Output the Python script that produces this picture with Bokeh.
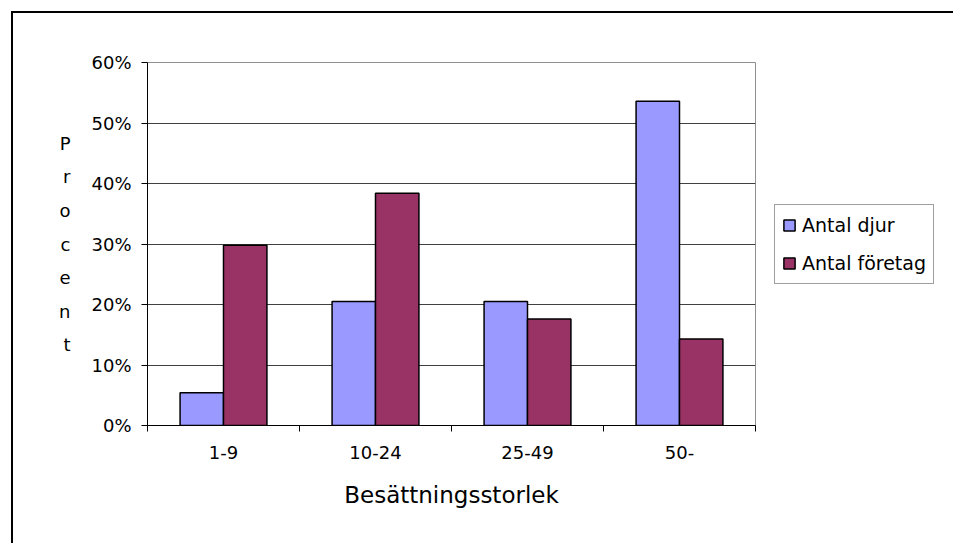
from bokeh.plotting import figure
from bokeh.models import (ColumnDataSource, FixedTicker, PrintfTickFormatter, Range1d,
                          Legend, LegendItem, CustomJSTickFormatter)
from bokeh.transform import dodge
from bokeh.embed import file_html
from bokeh.resources import INLINE

categories = ["1-9", "10-24", "25-49", "50-"]
antal_djur = [5.4, 20.5, 20.5, 53.6]
antal_foretag = [29.8, 38.4, 17.6, 14.3]
series_names = ["Antal djur", "Antal företag"]
y_ticks = [0, 10, 20, 30, 40, 50, 60]
y_label = "Procent"
x_label = "Besättningsstorlek"

FONT = "DejaVu Sans"
n = len(categories)
pos = [i + 0.5 for i in range(n)]
src = ColumnDataSource(dict(x=pos, djur=antal_djur, foretag=antal_foretag))

p = figure(width=939, height=532, frame_width=608, frame_height=363,
           x_range=Range1d(0, n), y_range=Range1d(y_ticks[0], y_ticks[-1]),
           output_backend="svg", toolbar_location=None,
           min_border_left=134, min_border_right=197, min_border_top=49, min_border_bottom=120)
p.styles = {"position": "relative", "left": "13px", "top": "13px",
            "box-shadow": "-2px -2px 0px 0px black"}
p.background_fill_color = "white"
p.border_fill_color = "white"
p.outline_line_color = "#909090"
p.outline_line_width = 1

bar_w = 1 / 3.5
r1 = p.vbar(x=dodge('x', -bar_w / 2), top='djur', width=bar_w, source=src,
            fill_color="#9999FF", line_color="black", line_width=1.5)
r2 = p.vbar(x=dodge('x', bar_w / 2), top='foretag', width=bar_w, source=src,
            fill_color="#993366", line_color="black", line_width=1.5)

# x axis
xa = p.xaxis[0]
xa.ticker = FixedTicker(ticks=pos, minor_ticks=list(range(n + 1)))
xa.formatter = CustomJSTickFormatter(args=dict(labels=categories),
                                     code="return labels[Math.floor(tick)] || '';")
xa.major_tick_in = 0
xa.major_tick_out = 0
xa.minor_tick_in = 0
xa.minor_tick_out = 6
xa.minor_tick_line_color = "black"
xa.axis_line_color = "black"
xa.major_label_text_font = FONT
xa.major_label_text_font_size = "18px"
xa.major_label_text_color = "black"
xa.major_label_standoff = 14
xa.axis_label = x_label
xa.axis_label_text_font = FONT
xa.axis_label_text_font_size = "23px"
xa.axis_label_text_font_style = "normal"
xa.axis_label_text_color = "black"
xa.axis_label_standoff = 20

# y axis
ya = p.yaxis[0]
ya.ticker = FixedTicker(ticks=y_ticks)
ya.formatter = PrintfTickFormatter(format="%d%%")
ya.major_tick_in = 0
ya.major_tick_out = 6
ya.minor_tick_line_color = None
ya.axis_line_color = "black"
ya.major_tick_line_color = "black"
ya.major_label_text_font = FONT
ya.major_label_text_font_size = "18px"
ya.major_label_text_color = "black"
ya.major_label_standoff = 10
ya.axis_label = "\n".join(y_label)
ya.axis_label_orientation = "horizontal"
ya.axis_label_text_font = FONT
ya.axis_label_text_font_size = "18px"
ya.axis_label_text_font_style = "normal"
ya.axis_label_text_color = "black"
ya.axis_label_text_line_height = 1.6
ya.axis_label_text_align = "center"
ya.axis_label_standoff = 18

p.xgrid.visible = False
p.ygrid.ticker = FixedTicker(ticks=y_ticks[1:-1])
p.ygrid.grid_line_color = "#404040"
p.ygrid.grid_line_width = 1

legend = Legend(items=[LegendItem(label=series_names[0], renderers=[r1]),
                       LegendItem(label=series_names[1], renderers=[r2])],
                location="center_left", margin=19, padding=7, spacing=12,
                label_height=26, glyph_width=14, glyph_height=14, label_standoff=6,
                label_text_font=FONT, label_text_font_size="19px", label_text_color="black",
                border_line_color="#404040", border_line_width=1, background_fill_color="white")
p.add_layout(legend, "right")

open("out.html", "w").write(file_html(p, INLINE))
